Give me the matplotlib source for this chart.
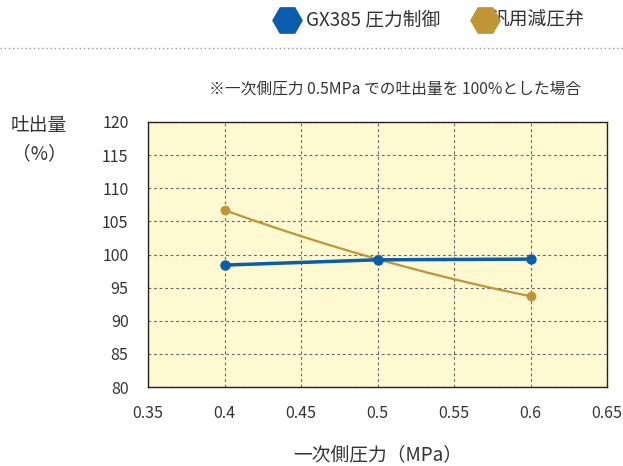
import numpy as np
import matplotlib
matplotlib.use("Agg")
import matplotlib.pyplot as plt
from matplotlib.lines import Line2D

plt.rcParams['font.family'] = ['Noto Sans CJK JP', 'DejaVu Sans']

pressure = [0.4, 0.5, 0.6]
gx385 = [98.4, 99.2, 99.3]
general = [106.7, 99.3, 93.7]
series_names = ['GX385 圧力制御', '汎用減圧弁']
xticks = [0.35, 0.4, 0.45, 0.5, 0.55, 0.6, 0.65]
yticks = [80, 85, 90, 95, 100, 105, 110, 115, 120]

blue = '#0a5cad'
gold = '#bf9535'
txt = '#333333'

fig = plt.figure(figsize=(6.23, 4.66), dpi=100)
W, H = 623, 466
ax = fig.add_axes([148 / W, 1 - 387 / H, (607 - 148) / W, (387 - 122) / H])
ax.set_facecolor('#fff9d2')
ax.set_xlim(0.35, 0.65)
ax.set_ylim(80, 120)
ax.set_xticks(xticks)
ax.set_xticklabels([f'{v:g}' for v in xticks])
ax.set_yticks(yticks)
ax.tick_params(axis='y', length=0, labelsize=11.5, colors=txt, pad=14)
ax.tick_params(axis='x', length=0, labelsize=11.5, colors=txt, pad=13)
for s in ax.spines.values():
    s.set_color('#222222')
    s.set_linewidth(1.0)
ax.grid(True, color='#666666', linestyle=(0, (2.5, 2.5)), linewidth=0.8)
ax.set_axisbelow(True)

# smooth curve for the general valve line
coef = np.polyfit(pressure, general, 2)
xs = np.linspace(pressure[0], pressure[-1], 100)
ax.plot(xs, np.polyval(coef, xs), color=gold, lw=1.6, zorder=3)
ax.plot(pressure, general, 'o', color=gold, ms=6, zorder=4)
ax.plot(pressure, gx385, '-o', color=blue, lw=2.5, ms=6.5, zorder=5)

# legend at the top
fig.add_artist(Line2D([287 / W], [1 - 20 / H], marker='H', ms=21, color=blue,
                      transform=fig.transFigure))
fig.text(306 / W, 1 - 20 / H, series_names[0], fontsize=13.5, va='center', color=txt)
fig.add_artist(Line2D([485 / W], [1 - 20 / H], marker='H', ms=21, color=gold,
                      transform=fig.transFigure, zorder=5))
fig.text(490 / W, 1 - 20 / H, series_names[1], fontsize=13.5, va='center', color=txt)
fig.add_artist(Line2D([0, 1], [1 - 48 / H, 1 - 48 / H], color='#999999', lw=1,
                      linestyle=(0, (1, 2)), transform=fig.transFigure))

fig.text(581 / W, 1 - 89 / H, '※一次側圧力 0.5MPa での吐出量を 100%とした場合',
         fontsize=11.3, ha='right', va='center', color=txt)
fig.text(39 / W, 1 - 125 / H, '吐出量', fontsize=13.5, ha='center', va='center', color=txt)
fig.text(39 / W, 1 - 154 / H, '（%）', fontsize=13.5, ha='center', va='center', color=txt)
fig.text(378 / W, 1 - 455 / H, '一次側圧力（MPa）', fontsize=13.5, ha='center', va='center', color=txt)

fig.savefig('out.png', dpi=100)
